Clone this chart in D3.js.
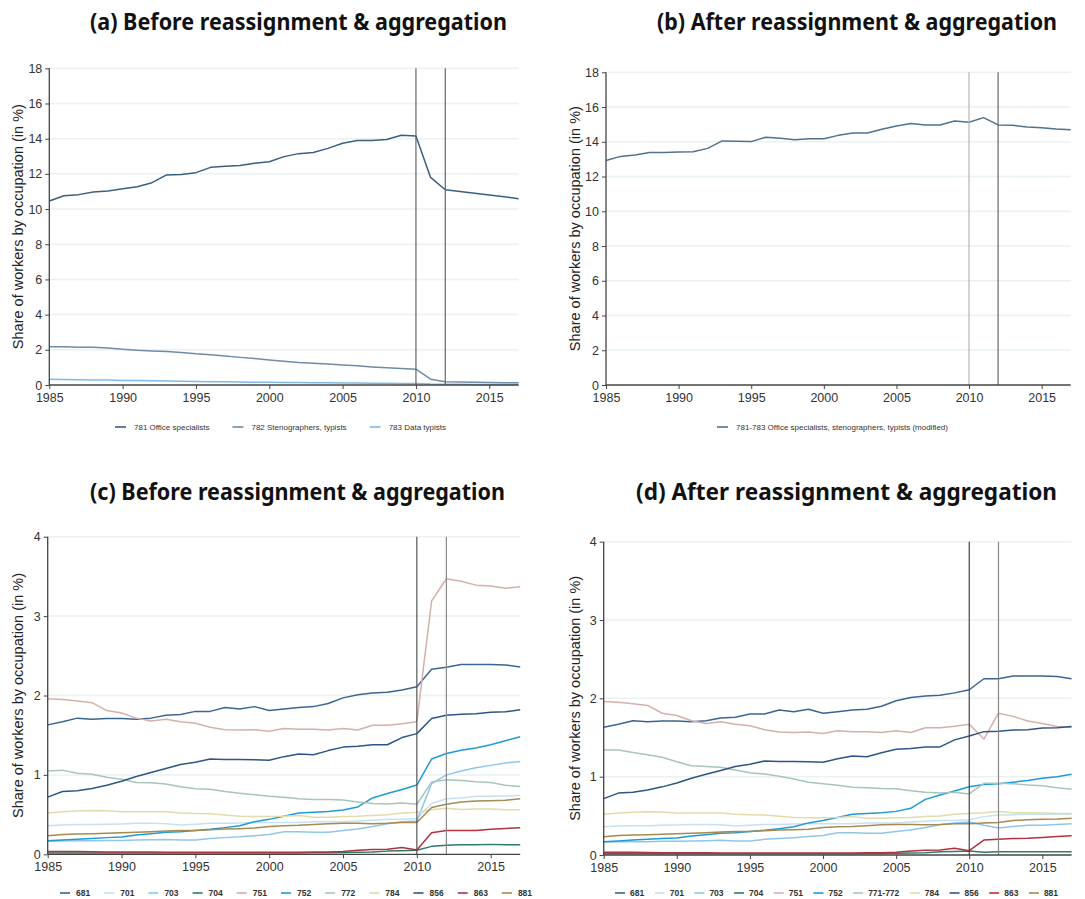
<!DOCTYPE html>
<html>
<head>
<meta charset="utf-8">
<script src="https://cdn.jsdelivr.net/npm/d3@7"></script>
<style>
  html, body { margin: 0; padding: 0; background: #fff; }
  svg { display: block; }
  .tick text { font-family: "Liberation Sans", Arial, sans-serif; }
</style>
</head>
<body>
<svg id="chart" width="1085" height="899"></svg>
<script>
// Survey years
const years = [1985,1986,1987,1988,1989,1990,1991,1992,1993,1994,1995,1996,1997,1998,1999,2000,
  2001,2002,2003,2004,2005,2006,2007,2008,2009,2010,2011,2012,2013,2014,2015,2016,2017];
const xTicks = [1985, 1990, 1995, 2000, 2005, 2010, 2015];
const breakYears = [2010, 2012];

// Office occupations (shares in %)
const office781 = [10.46,10.76,10.82,10.97,11.03,11.16,11.27,11.50,11.94,11.97,12.07,12.37,12.43,12.47,12.60,12.69,
  12.98,13.15,13.21,13.45,13.74,13.89,13.89,13.95,14.19,14.15,11.80,11.10,11.00,10.90,10.80,10.70,10.59];
const office782 = [2.18,2.18,2.15,2.14,2.10,2.03,1.97,1.93,1.90,1.85,1.77,1.72,1.65,1.57,1.50,1.42,
  1.35,1.28,1.24,1.19,1.14,1.09,1.03,0.98,0.94,0.90,0.33,0.18,0.17,0.15,0.14,0.13,0.13];
const office783 = [0.32,0.31,0.30,0.29,0.28,0.26,0.25,0.24,0.23,0.22,0.20,0.19,0.18,0.17,0.16,0.15,
  0.145,0.14,0.13,0.13,0.12,0.11,0.10,0.10,0.09,0.09,0.05,0.04,0.04,0.035,0.03,0.03,0.03];
const office781to783 = [12.92,13.16,13.24,13.38,13.38,13.41,13.43,13.62,14.05,14.03,14.01,14.26,14.20,14.12,14.18,14.18,
  14.37,14.51,14.51,14.72,14.91,15.05,14.97,14.97,15.20,15.12,15.39,14.97,14.95,14.85,14.81,14.74,14.70];

// Other occupations: 1985-2010 values, then 2011-2017 before / after reassignment
const occ681 = [1.63,1.67,1.715,1.70,1.71,1.71,1.70,1.715,1.75,1.76,1.80,1.80,1.85,1.83,1.86,1.81,1.83,1.85,1.86,1.90,1.97,2.01,2.03,2.04,2.07,2.11];
const occ681Before = [2.33,2.355,2.39,2.39,2.39,2.385,2.36];
const occ681After = [2.25,2.25,2.285,2.285,2.285,2.28,2.25];

const occ701 = [0.36,0.37,0.375,0.375,0.38,0.383,0.39,0.39,0.385,0.37,0.38,0.39,0.39,0.395,0.40,0.40,0.40,0.40,0.41,0.41,0.41,0.42,0.43,0.44,0.44,0.45];
const occ701Before = [0.64,0.70,0.71,0.73,0.73,0.735,0.74];
const occ701After = [0.49,0.51,0.515,0.52,0.52,0.52,0.52];

const occ703 = [0.165,0.168,0.17,0.17,0.175,0.175,0.18,0.182,0.187,0.18,0.18,0.20,0.21,0.22,0.235,0.25,0.285,0.285,0.277,0.277,0.30,0.32,0.35,0.385,0.41,0.42];
const occ703Before = [0.89,1.00,1.05,1.09,1.12,1.15,1.17];
const occ703After = [0.38,0.345,0.365,0.38,0.38,0.39,0.40];

const occ704 = [0.015,0.015,0.015,0.015,0.015,0.015,0.015,0.015,0.015,0.015,0.015,0.015,0.015,0.015,0.015,0.015,0.015,0.015,0.018,0.02,0.022,0.025,0.03,0.04,0.045,0.05];
const occ704Before = [0.10,0.115,0.12,0.12,0.125,0.12,0.12];
const occ704After = [0.035,0.04,0.04,0.04,0.04,0.04,0.04];

const occ751 = [1.96,1.95,1.93,1.91,1.81,1.78,1.715,1.68,1.70,1.67,1.65,1.60,1.57,1.565,1.57,1.55,1.585,1.575,1.575,1.565,1.585,1.565,1.625,1.625,1.645,1.67];
const occ751Before = [3.19,3.47,3.44,3.39,3.38,3.35,3.37];
const occ751After = [1.48,1.81,1.77,1.71,1.68,1.64,1.63];

const occ752 = [0.17,0.18,0.19,0.20,0.21,0.217,0.243,0.26,0.277,0.285,0.30,0.315,0.336,0.36,0.41,0.44,0.48,0.52,0.53,0.54,0.557,0.596,0.71,0.766,0.817,0.872];
const occ752Before = [1.20,1.27,1.31,1.34,1.38,1.43,1.48];
const occ752After = [0.90,0.91,0.93,0.95,0.98,1.00,1.03];

const occ772 = [1.05,1.06,1.02,1.007,0.97,0.945,0.905,0.90,0.885,0.85,0.827,0.82,0.79,0.77,0.75,0.73,0.72,0.70,0.69,0.69,0.684,0.66,0.64,0.634,0.645,0.63];
const occ772Before = [0.91,0.94,0.93,0.915,0.905,0.87,0.855];
const occ771to772 = [1.34,1.34,1.31,1.28,1.247,1.19,1.14,1.13,1.12,1.085,1.05,1.034,1.005,0.97,0.93,0.91,0.889,0.864,0.86,0.85,0.847,0.82,0.80,0.79,0.80,0.78];
const occ771to772After = [0.915,0.915,0.91,0.895,0.885,0.86,0.84];

const occ784 = [0.52,0.536,0.545,0.553,0.55,0.536,0.536,0.536,0.536,0.52,0.515,0.51,0.494,0.48,0.477,0.477,0.48,0.49,0.468,0.468,0.477,0.48,0.49,0.498,0.52,0.53];
const occ784Before = [0.56,0.58,0.565,0.57,0.57,0.56,0.56];
const occ784After = [0.54,0.555,0.54,0.54,0.535,0.53,0.53];

const occ856 = [0.72,0.79,0.80,0.83,0.87,0.92,0.98,1.03,1.08,1.13,1.16,1.20,1.195,1.195,1.19,1.185,1.23,1.264,1.255,1.306,1.35,1.36,1.38,1.38,1.47,1.52];
const occ856Before = [1.71,1.75,1.765,1.77,1.79,1.795,1.82];
const occ856After = [1.575,1.58,1.595,1.60,1.62,1.625,1.64];

const occ863 = [0.035,0.035,0.035,0.033,0.03,0.03,0.028,0.028,0.027,0.027,0.027,0.026,0.026,0.025,0.025,0.025,0.025,0.026,0.028,0.03,0.035,0.05,0.06,0.065,0.085,0.055];
const occ863Before = [0.27,0.30,0.30,0.30,0.315,0.325,0.335];
const occ863After = [0.19,0.20,0.21,0.215,0.225,0.235,0.245];

const occ881 = [0.234,0.25,0.255,0.26,0.265,0.272,0.277,0.285,0.294,0.30,0.30,0.31,0.32,0.323,0.33,0.35,0.36,0.365,0.375,0.385,0.39,0.39,0.385,0.39,0.40,0.40];
const occ881Before = [0.59,0.63,0.66,0.67,0.675,0.68,0.70];
const occ881After = [0.41,0.415,0.44,0.45,0.455,0.46,0.47];

const colors = {
  "681": "#3b6592", "701": "#c6e1f3", "703": "#8ec6ec", "704": "#2f7b69",
  "751": "#d5b0ab", "752": "#1d9bd6", "772": "#a8c5bb", "771-772": "#a8c5bb",
  "784": "#e2dbab", "856": "#2d5686", "863": "#b1323f", "881": "#a68a50",
  "781": "#3c5e80", "782": "#6f8ba8", "783": "#7cbbe8", "781-783": "#4f7290"
};

const svg = d3.select("#chart");
svg.append("rect").attr("width", 1085).attr("height", 899).attr("fill", "#fff");

function drawPanel(p) {
  const g = svg.append("g");
  const x = d3.scaleLinear().domain([1985, 2017]).range([p.left, p.right]);
  const y = d3.scaleLinear().domain([0, p.yMax]).range([p.bottom, p.top]);
  const yTicks = d3.range(0, p.yMax + p.yStep / 2, p.yStep);

  // gridlines
  g.append("g").selectAll("line").data(yTicks.filter(v => v > 0)).join("line")
    .attr("x1", p.left).attr("x2", p.right)
    .attr("y1", d => y(d)).attr("y2", d => y(d))
    .attr("stroke", "#eaf2f2").attr("stroke-width", 1.5);

  // title
  g.append("text").attr("x", p.titleX).attr("y", p.titleY)
    .attr("textLength", p.titleW).attr("lengthAdjust", "spacingAndGlyphs")
    .attr("font-family", "'Noto Sans', 'Open Sans', sans-serif").attr("font-weight", 700)
    .attr("font-size", 23).attr("fill", "#111").text(p.title);

  // y-axis title
  g.append("text")
    .attr("transform", `translate(${p.yTitleX},${(p.top + p.bottom) / 2 + p.yTitleDy}) rotate(-90)`)
    .attr("text-anchor", "middle")
    .attr("font-family", "'Liberation Sans', Arial, sans-serif").attr("font-size", 14.5)
    .attr("fill", "#222").text("Share of workers by occupation (in %)");

  // series
  const line = d3.line().x((d, i) => x(years[i])).y(d => y(d));
  p.series.forEach(s => {
    g.append("path").datum(s.values)
      .attr("fill", "none").attr("stroke", colors[s.key])
      .attr("stroke-width", 1.5).attr("stroke-linejoin", "round")
      .attr("d", line);
  });

  // reference lines at the classification break
  breakYears.forEach((yr, i) => {
    g.append("line").attr("x1", x(yr)).attr("x2", x(yr))
      .attr("y1", y(p.yMax)).attr("y2", y(0))
      .attr("stroke", p.breakColors[i]).attr("stroke-width", 1.2);
  });

  // axes
  const yAxis = d3.axisLeft(y).tickValues(yTicks).tickSize(4).tickPadding(3).tickFormat(d3.format("d"));
  const ya = g.append("g").attr("transform", `translate(${p.left},0)`).call(yAxis);
  const xAxis = d3.axisBottom(x).tickValues(xTicks).tickSize(4).tickPadding(4).tickFormat(d3.format("d"));
  const xa = g.append("g").attr("transform", `translate(0,${p.bottom})`).call(xAxis);
  [ya, xa].forEach(a => {
    a.select(".domain").attr("stroke", "#444").attr("stroke-width", 1.3);
    a.selectAll(".tick line").attr("stroke", "#444");
    a.selectAll(".tick text").attr("font-size", 12.5).attr("fill", "#333");
  });
  ya.select(".domain").attr("d", `M0,${y(p.yMax)}V${y(0)}`);
  xa.select(".domain").attr("d", `M${p.left},0H${p.right}`);

  // legend
  const lg = g.append("g").attr("transform", `translate(0,${p.legendY})`);
  let cx = p.legendX;
  p.series.forEach(s => {
    lg.append("line").attr("x1", cx).attr("x2", cx + p.legendLine).attr("y1", 0).attr("y2", 0)
      .attr("stroke", colors[s.key]).attr("stroke-width", 1.6);
    const t = lg.append("text").attr("x", cx + p.legendLine + p.legendGap).attr("y", 0)
      .attr("dominant-baseline", "central")
      .attr("font-family", "'Liberation Sans', Arial, sans-serif")
      .attr("font-size", p.legendFont).attr("font-weight", p.legendWeight)
      .attr("fill", "#333").text(s.label);
    const w = t.node().getComputedTextLength();
    cx += p.legendLine + p.legendGap + w + p.legendSpace;
  });
}

const join = (a, b) => a.concat(b);

drawPanel({
  title: "(a) Before reassignment & aggregation", titleX: 90, titleY: 30, titleW: 417,
  left: 49.3, right: 518.6, top: 68.3, bottom: 385, yMax: 18, yStep: 2,
  yTitleX: 23, yTitleDy: 0,
  breakColors: ["#666", "#666"],
  legendX: 115, legendY: 427, legendLine: 11, legendGap: 8, legendSpace: 23, legendFont: 8, legendWeight: 400,
  series: [
    { key: "781", label: "781 Office specialists", values: office781 },
    { key: "782", label: "782 Stenographers, typists", values: office782 },
    { key: "783", label: "783 Data typists", values: office783 }
  ]
});

drawPanel({
  title: "(b) After reassignment & aggregation", titleX: 657, titleY: 30, titleW: 400,
  left: 606, right: 1070.7, top: 72.3, bottom: 385, yMax: 18, yStep: 2,
  yTitleX: 580, yTitleDy: 0,
  breakColors: ["#b4b4b4", "#666"],
  legendX: 717, legendY: 427, legendLine: 11, legendGap: 8, legendSpace: 20, legendFont: 8, legendWeight: 400,
  series: [
    { key: "781-783", label: "781-783 Office specialists, stenographers, typists (modified)", values: office781to783 }
  ]
});

drawPanel({
  title: "(c) Before reassignment & aggregation", titleX: 90, titleY: 500, titleW: 415,
  left: 47.7, right: 520.2, top: 536.7, bottom: 854.3, yMax: 4, yStep: 1,
  yTitleX: 23, yTitleDy: 0,
  breakColors: ["#555", "#8a8a8a"],
  legendX: 60, legendY: 893, legendLine: 10, legendGap: 6, legendSpace: 14, legendFont: 8.5, legendWeight: 700,
  series: [
    { key: "681", label: "681", values: join(occ681, occ681Before) },
    { key: "701", label: "701", values: join(occ701, occ701Before) },
    { key: "703", label: "703", values: join(occ703, occ703Before) },
    { key: "704", label: "704", values: join(occ704, occ704Before) },
    { key: "751", label: "751", values: join(occ751, occ751Before) },
    { key: "752", label: "752", values: join(occ752, occ752Before) },
    { key: "772", label: "772", values: join(occ772, occ772Before) },
    { key: "784", label: "784", values: join(occ784, occ784Before) },
    { key: "856", label: "856", values: join(occ856, occ856Before) },
    { key: "863", label: "863", values: join(occ863, occ863Before) },
    { key: "881", label: "881", values: join(occ881, occ881Before) }
  ]
});

drawPanel({
  title: "(d) After reassignment & aggregation", titleX: 636, titleY: 500, titleW: 421,
  left: 603.7, right: 1071.6, top: 541.7, bottom: 855, yMax: 4, yStep: 1,
  yTitleX: 580, yTitleDy: 0,
  breakColors: ["#444", "#888"],
  legendX: 615, legendY: 893, legendLine: 10, legendGap: 5, legendSpace: 10.5, legendFont: 8.5, legendWeight: 700,
  series: [
    { key: "681", label: "681", values: join(occ681, occ681After) },
    { key: "701", label: "701", values: join(occ701, occ701After) },
    { key: "703", label: "703", values: join(occ703, occ703After) },
    { key: "704", label: "704", values: join(occ704, occ704After) },
    { key: "751", label: "751", values: join(occ751, occ751After) },
    { key: "752", label: "752", values: join(occ752, occ752After) },
    { key: "771-772", label: "771-772", values: join(occ771to772, occ771to772After) },
    { key: "784", label: "784", values: join(occ784, occ784After) },
    { key: "856", label: "856", values: join(occ856, occ856After) },
    { key: "863", label: "863", values: join(occ863, occ863After) },
    { key: "881", label: "881", values: join(occ881, occ881After) }
  ]
});
</script>
</body>
</html>
